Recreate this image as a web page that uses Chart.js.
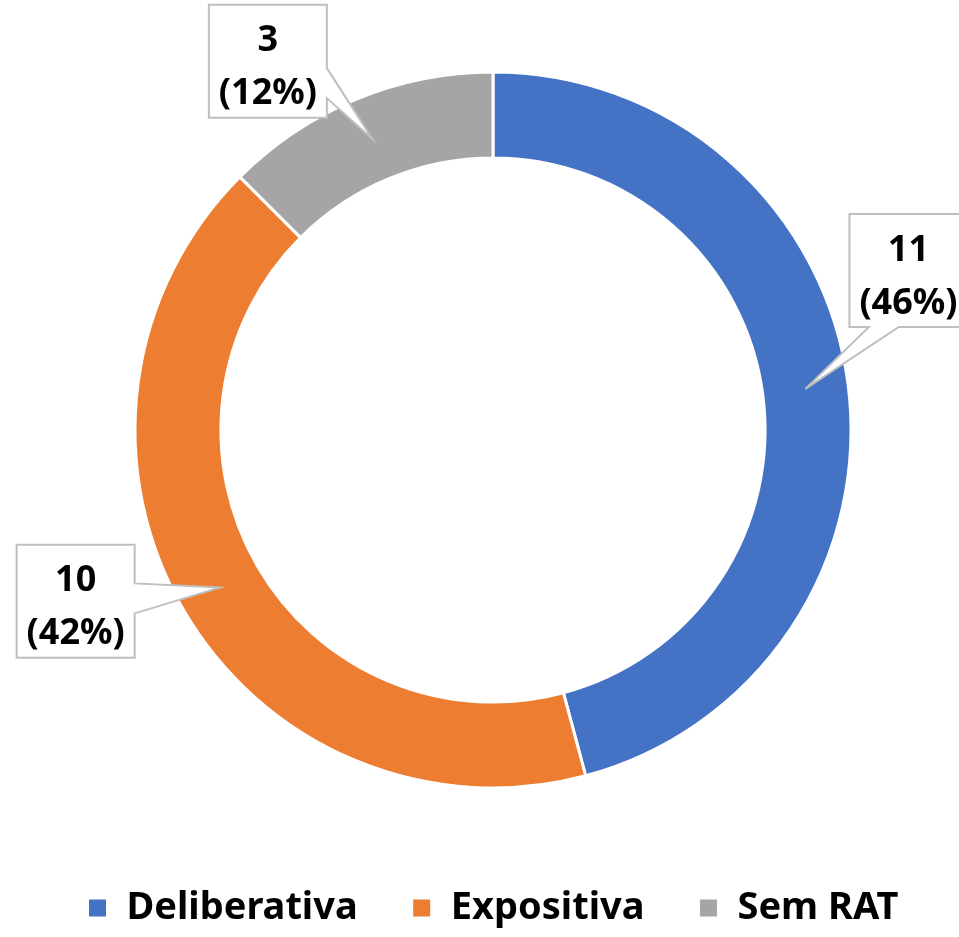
<!DOCTYPE html>
<html>
<head>
<meta charset="utf-8">
<script src="https://cdn.jsdelivr.net/npm/chart.js@4"></script>
<style>
  html, body { margin: 0; padding: 0; background: #fff; overflow: hidden; }
  #wrap { width: 959px; height: 937px; position: relative; }
</style>
</head>
<body>
<div id="wrap"><canvas id="chartRat"></canvas></div>
<script>
// dados
const categories = ["Deliberativa", "Expositiva", "Sem RAT"];
const values = [11, 10, 3];
const colors = ["#4472C4", "#ED7D31", "#A5A5A5"];

// posicao das caixas de rotulo (desvio angular em graus, distancia em fracao do raio)
const labelAngle = [-13.5, 7.7, -8.9];
const labelDist = [1.243, 1.26, 1.207];

// percentagens com o metodo do maior resto (somam 100)
function percents(vals) {
    const total = vals.reduce((a, b) => a + b, 0);
    const raw = vals.map(v => v / total * 100);
    const out = raw.map(Math.floor);
    let left = 100 - out.reduce((a, b) => a + b, 0);
    raw.map((r, i) => [r - Math.floor(r), i])
        .sort((a, b) => b[0] - a[0])
        .forEach(([, i]) => { if (left > 0) { out[i]++; left--; } });
    return out;
}
const pcts = percents(values);

const callouts = {
    id: "callouts",
    afterDatasetsDraw(chart) {
        const ctx = chart.ctx;
        const meta = chart.getDatasetMeta(0);
        const w = 118, h = 113, half = 15;
        meta.data.forEach((arc, i) => {
            const p = arc.getProps(["x", "y", "startAngle", "endAngle", "innerRadius", "outerRadius"], true);
            const mid = (p.startAngle + p.endAngle) / 2;
            const rMid = (p.innerRadius + p.outerRadius) / 2;
            const tx = p.x + Math.cos(mid) * rMid;
            const ty = p.y + Math.sin(mid) * rMid;
            const a = mid + labelAngle[i] * Math.PI / 180;
            const bx = p.x + Math.cos(a) * p.outerRadius * labelDist[i];
            const by = p.y + Math.sin(a) * p.outerRadius * labelDist[i];
            const L = bx - w / 2, R = bx + w / 2, T = by - h / 2, B = by + h / 2;
            const dx = tx - bx, dy = ty - by;

            let side, b0, b1;
            if (Math.abs(dx) * h / 2 > Math.abs(dy) * w / 2) {
                side = dx > 0 ? "right" : "left";
                const yi = by + dy * (w / 2) / Math.abs(dx);
                let c = (by + yi) / 2;
                c = Math.min(Math.max(c, T + half), B - half);
                b0 = c - half; b1 = c + half;
            } else {
                side = dy > 0 ? "bottom" : "top";
                const xi = bx + dx * (h / 2) / Math.abs(dy);
                let c = (bx + xi) / 2;
                c = Math.min(Math.max(c, L + half), R - half);
                b0 = c - half; b1 = c + half;
            }

            ctx.save();
            ctx.beginPath();
            ctx.moveTo(L, T);
            if (side === "top") { ctx.lineTo(b0, T); ctx.lineTo(tx, ty); ctx.lineTo(b1, T); }
            ctx.lineTo(R, T);
            if (side === "right") { ctx.lineTo(R, b0); ctx.lineTo(tx, ty); ctx.lineTo(R, b1); }
            ctx.lineTo(R, B);
            if (side === "bottom") { ctx.lineTo(b1, B); ctx.lineTo(tx, ty); ctx.lineTo(b0, B); }
            ctx.lineTo(L, B);
            if (side === "left") { ctx.lineTo(L, b1); ctx.lineTo(tx, ty); ctx.lineTo(L, b0); }
            ctx.closePath();
            ctx.fillStyle = "#ffffff";
            ctx.fill();
            ctx.lineWidth = 2;
            ctx.strokeStyle = "#BFBFBF";
            ctx.stroke();

            ctx.fillStyle = "#000000";
            ctx.font = "bold 36px 'Noto Sans'";
            ctx.textAlign = "center";
            ctx.textBaseline = "middle";
            ctx.fillText(String(values[i]), bx, by - 20);
            ctx.fillText("(" + pcts[i] + "%)", bx, by + 33);
            ctx.restore();
        });
    }
};

Chart.defaults.font.family = "'Noto Sans', sans-serif";

const donut = document.getElementById("chartRat");
new Chart(donut, {
    type: "doughnut",
    data: {
        labels: categories,
        datasets: [{
            data: values,
            backgroundColor: colors,
            borderColor: "#ffffff",
            borderWidth: 3
        }]
    },
    options: {
        responsive: true,
        maintainAspectRatio: false,
        animation: false,
        radius: 358,
        cutout: "76%",
        layout: { padding: { left: 27, right: 0, top: 25, bottom: 0 } },
        plugins: {
            tooltip: { enabled: false },
            legend: {
                position: "bottom",
                labels: {
                    boxWidth: 20,
                    boxHeight: 20,
                    padding: 54,
                    color: "#000000",
                    font: { size: 38, weight: "bold" }
                }
            }
        }
    },
    plugins: [callouts]
});
</script>
</body>
</html>
